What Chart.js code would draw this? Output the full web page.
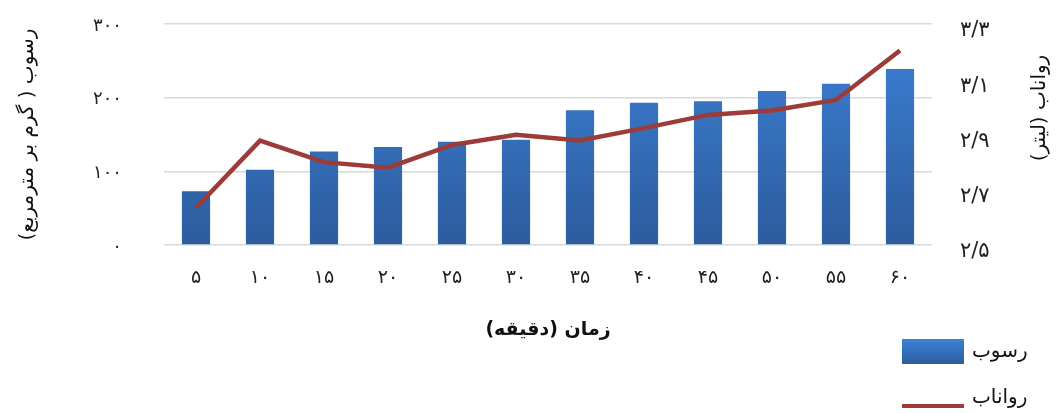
<!DOCTYPE html>
<html>
<head>
<meta charset="utf-8">
<script src="https://cdn.jsdelivr.net/npm/chart.js@4"></script>
<style>
  body { margin: 0; background: #fff; }
  #wrap { position: relative; width: 1058px; height: 413px; }
</style>
</head>
<body>
<div id="wrap">
  <canvas id="chart" dir="rtl"></canvas>
</div>
<script>
// time (minutes)
const categories = ['۵', '۱۰', '۱۵', '۲۰', '۲۵', '۳۰', '۳۵', '۴۰', '۴۵', '۵۰', '۵۵', '۶۰'];
// sediment (g/m2)
const sediment = [73, 102, 127, 133, 140, 143, 183, 193, 195, 209, 219, 239];
// runoff (litre)
const runoff = [2.635, 2.878, 2.80, 2.78, 2.862, 2.899, 2.878, 2.923, 2.971, 2.987, 3.025, 3.204];

const leftTicks = [0, 100, 200, 300];
const rightTicks = [2.5, 2.7, 2.9, 3.1, 3.3];

const sedimentLabel = 'رسوب';
const runoffLabel = 'رواناب';
const xTitle = 'زمان (دقیقه)';
const leftTitle = 'رسوب ( گرم بر مترمربع)';
const rightTitle = 'رواناب (لیتر)';

const FONT = '"DejaVu Sans", sans-serif';
const BAR_TOP = '#3d81d8';
const BAR_BOTTOM = '#2c5c9c';
const LINE_COLOR = '#9c3b38';
const faDigits = s => String(s).replace(/\d/g, d => '۰۱۲۳۴۵۶۷۸۹'[d]);

// right axis title reads top-down like the left one, and the legend sits
// under the right axis, so both are drawn by hand
const extrasPlugin = {
    id: 'extras',
    afterDraw(chart) {
        const { ctx, chartArea } = chart;
        ctx.save();
        ctx.translate(chart.width - 18, chartArea.top + 84);
        ctx.rotate(-Math.PI / 2);
        ctx.font = '20px ' + FONT;
        ctx.fillStyle = '#111';
        ctx.textAlign = 'center';
        ctx.textBaseline = 'middle';
        ctx.fillText(rightTitle, 0, 0);
        ctx.restore();

        // legend
        const lx = 902, ly = 339;
        ctx.save();
        const g = ctx.createLinearGradient(0, ly, 0, ly + 25);
        g.addColorStop(0, BAR_TOP);
        g.addColorStop(1, BAR_BOTTOM);
        ctx.fillStyle = g;
        ctx.fillRect(lx, ly, 62, 25);
        ctx.fillStyle = LINE_COLOR;
        ctx.fillRect(lx, ly + 65, 62, 4);
        ctx.font = '20px ' + FONT;
        ctx.fillStyle = '#111';
        ctx.textAlign = 'left';
        ctx.textBaseline = 'middle';
        const ds = chart.data.datasets;
        ctx.fillText(ds[0].label, lx + 70, ly + 13);
        ctx.fillText(ds[1].label, lx + 70, ly + 59);
        ctx.restore();
    }
};

function barGradient(c) {
    const area = c.chart.chartArea;
    if (!area) return BAR_TOP;
    const g = c.chart.ctx.createLinearGradient(0, area.top, 0, area.bottom);
    g.addColorStop(0, BAR_TOP);
    g.addColorStop(1, BAR_BOTTOM);
    return g;
}

new Chart(document.getElementById('chart'), {
    data: {
        labels: categories,
        datasets: [
            {
                type: 'bar',
                label: sedimentLabel,
                data: sediment,
                yAxisID: 'y',
                backgroundColor: barGradient,
                categoryPercentage: 1,
                barPercentage: 0.44,
                order: 2
            },
            {
                type: 'line',
                label: runoffLabel,
                data: runoff,
                yAxisID: 'y1',
                borderColor: LINE_COLOR,
                borderWidth: 4.5,
                pointRadius: 0,
                tension: 0,
                order: 1
            }
        ]
    },
    options: {
        responsive: true,
        maintainAspectRatio: false,
        animation: false,
        layout: { padding: { top: 24, bottom: 68, left: 0, right: 0 } },
        plugins: { legend: { display: false }, tooltip: { enabled: false } },
        scales: {
            x: {
                grid: { display: false },
                border: { display: false },
                ticks: { color: '#222', font: { family: FONT, size: 19 }, padding: 14 },
                title: {
                    display: true, text: xTitle, color: '#111',
                    font: { family: FONT, size: 19, weight: 'bold' },
                    padding: { top: 0, bottom: 4 }
                },
                afterFit: s => { s.height = 100; }
            },
            y: {
                position: 'left',
                min: 0, max: 300,
                afterBuildTicks: s => { s.ticks = leftTicks.map(v => ({ value: v })); },
                // long invisible ticks push the labels away from the plot
                grid: { color: '#d9d9d9', lineWidth: 1.5, tickLength: 38, tickColor: 'rgba(0,0,0,0)' },
                border: { display: false },
                ticks: {
                    color: '#222', font: { family: FONT, size: 18 }, padding: 4, labelOffset: 2,
                    callback: v => faDigits(v)
                },
                title: {
                    display: true, text: leftTitle, color: '#111',
                    font: { family: FONT, size: 20 },
                    padding: { top: 16, bottom: 0 }
                },
                afterFit: s => { s.width = 164; }
            },
            y1: {
                position: 'right',
                min: 2.5, max: 3.3,
                afterBuildTicks: s => { s.ticks = rightTicks.map(v => ({ value: v })); },
                grid: { display: false, drawOnChartArea: false, tickLength: 24, tickColor: 'rgba(0,0,0,0)' },
                border: { display: false },
                ticks: {
                    color: '#222', font: { family: FONT, size: 21 }, padding: 4, labelOffset: 7,
                    callback: v => faDigits(v.toFixed(1)).replace('.', '/')
                },
                afterFit: s => { s.width = 126; }
            }
        }
    },
    plugins: [extrasPlugin]
});
</script>
</body>
</html>
